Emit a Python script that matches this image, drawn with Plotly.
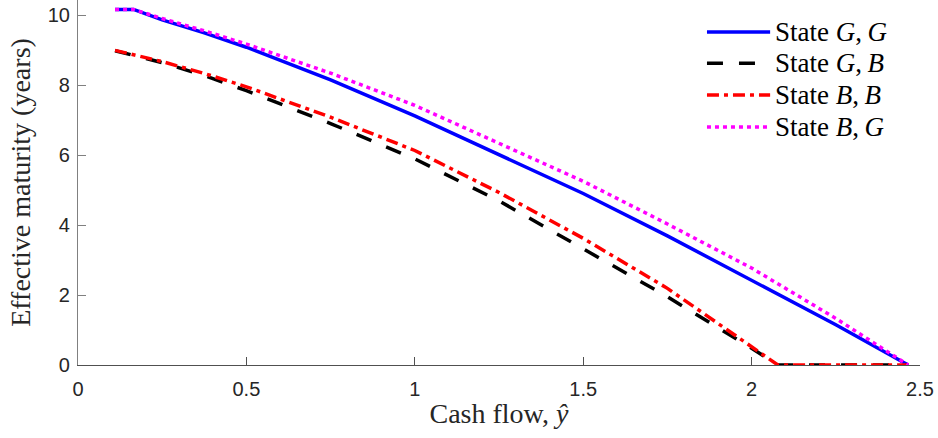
import plotly.graph_objects as go

# ---- data ----
x_g = [0.11, 0.165, 0.25, 0.375, 0.5, 0.75, 1.0, 1.25, 1.5, 1.75, 2.0, 2.25, 2.465]
state_gg = [10.16, 10.16, 9.86, 9.49, 9.08, 8.15, 7.12, 6.02, 4.90, 3.69, 2.42, 1.15, 0.0]
state_bg = [10.16, 10.16, 9.90, 9.55, 9.17, 8.34, 7.42, 6.33, 5.25, 4.03, 2.77, 1.33, 0.0]

x_b = [0.11, 0.25, 0.375, 0.5, 0.75, 1.0, 1.25, 1.5, 1.75, 2.0, 2.078, 2.25, 2.465]
state_gb = [8.98, 8.64, 8.27, 7.84, 6.90, 5.89, 4.69, 3.32, 1.95, 0.48, 0.0, 0.0, 0.0]
state_bb = [8.99, 8.67, 8.33, 7.95, 7.08, 6.13, 4.93, 3.62, 2.19, 0.50, 0.0, 0.0, 0.0]

series_names = ["State <i>G</i>,\u2009<i>G</i>", "State <i>G</i>,\u2009<i>B</i>",
                "State <i>B</i>,\u2009<i>B</i>", "State <i>B</i>,\u2009<i>G</i>"]
x_ticks = [0, 0.5, 1, 1.5, 2, 2.5]
x_ticklabels = ["0", "0.5", "1", "1.5", "2", "2.5"]
y_ticks = [0, 2, 4, 6, 8, 10]

colors = ["#0000FF", "#000000", "#FF0000", "#FF00FF"]
dashes = ["solid", "16px,16px", "12px,5px,4px,5px", "4px,4px"]
LW = 3.5
SERIF = "Liberation Serif, Times New Roman, serif"

fig = go.Figure()
series = [(x_g, state_gg), (x_b, state_gb), (x_b, state_bb), (x_g, state_bg)]
for (xs, ys), name, c, d in zip(series, series_names, colors, dashes):
    fig.add_trace(go.Scatter(x=xs, y=ys, mode="lines", name=name,
                             line=dict(color=c, width=LW, dash=d),
                             showlegend=False, hoverinfo="skip"))

# manual legend (MATLAB style)
leg_y = [0.912, 0.827, 0.740, 0.652]
for name, c, d, yy in zip(series_names, colors, dashes, leg_y):
    fig.add_shape(type="line", xref="paper", yref="paper",
                  x0=0.747, x1=0.822, y0=yy, y1=yy,
                  line=dict(color=c, width=LW, dash=d))
    fig.add_annotation(xref="paper", yref="paper", x=0.825, y=yy,
                       xanchor="left", yanchor="middle", showarrow=False,
                       text=name, font=dict(family=SERIF, size=27, color="#000000"))

axis_common = dict(showline=True, ticks="inside", ticklen=8, showgrid=False,
                   zeroline=False, mirror=False, automargin=False,
                   tickfont=dict(family="Liberation Sans, Arial", size=20, color="#262626"))

fig.update_layout(
    width=938, height=438,
    margin=dict(l=78, r=18, t=0, b=73),
    paper_bgcolor="white", plot_bgcolor="white",
    xaxis=dict(range=[0, 2.5], tickvals=x_ticks, ticktext=x_ticklabels,
               linecolor="#505050", tickcolor="#505050", linewidth=1.2,
               ticklabelstandoff=6,
               title=dict(text="Cash flow, <i>ŷ</i>", standoff=4,
                          font=dict(family=SERIF, size=28, color="#262626")),
               **axis_common),
    yaxis=dict(range=[0, 10.43], tickvals=y_ticks,
               linecolor="#808080", tickcolor="#808080", linewidth=1.2,
               ticklabelstandoff=3,
               title=dict(text="Effective maturity (years)", standoff=8,
                          font=dict(family=SERIF, size=28, color="#262626")),
               **axis_common),
)

fig.write_html("out.html", config={"displayModeBar": False},
               post_script="document.body.style.margin='0';")
